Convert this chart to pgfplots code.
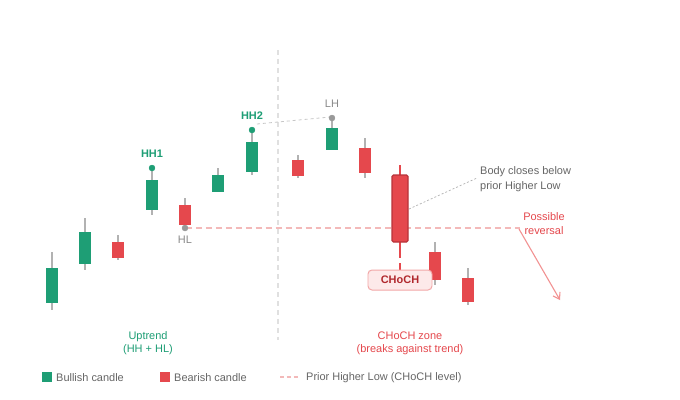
\documentclass[border=0pt]{standalone}
\usepackage{pgfplots}
\pgfplotsset{compat=1.18}
\usepackage{fontspec}
\setmainfont{Liberation Sans}
\usetikzlibrary{arrows.meta}
\definecolor{bull}{HTML}{1E9E75}
\definecolor{bear}{HTML}{E5484D}
\definecolor{beardark}{HTML}{B8343A}
\definecolor{wickc}{HTML}{B2B2B2}
\definecolor{txtgray}{HTML}{666666}
\definecolor{lblgray}{HTML}{8A8A8A}
\definecolor{levelc}{HTML}{F3B9B9}
\definecolor{chochtxt}{HTML}{B0282D}
\definecolor{chochfill}{HTML}{FDE9E9}
\definecolor{chochdraw}{HTML}{F2A7A7}
\definecolor{arrowc}{HTML}{F29292}
\begin{document}
\begin{tikzpicture}
\begin{axis}[width=680bp, height=400bp, scale only axis,
  xmin=0, xmax=680, ymin=0, ymax=400, y dir=reverse,
  axis lines=none, ticks=none, clip=false]
\fill[white] (axis cs:0,0) rectangle (axis cs:680,400);
% divider
\addplot[draw=black!12, line width=1.2pt, dash pattern=on 5pt off 4pt] coordinates {(278,50) (278,340)};
% CHoCH level
\addplot[draw=levelc, line width=1.3pt, dash pattern=on 6pt off 4pt] coordinates {(186,228) (520,228)};
% guide lines
\addplot[draw=black!22, line width=0.8pt, dash pattern=on 3pt off 3pt] coordinates {(257,124) (330,117)};
\addplot[draw=black!30, line width=0.7pt, dash pattern=on 2pt off 2pt] coordinates {(409,209) (477,178)};
% reversal arrow
\addplot[draw=arrowc, line width=1.1pt, -{Straight Barb[length=6pt,width=8pt]}] coordinates {(519,229) (560,300)};
% wicks
\addplot[wickc, line width=1.6pt] coordinates {(52,252) (52,310)};
\addplot[wickc, line width=1.6pt] coordinates {(85,218) (85,270)};
\addplot[wickc, line width=1.6pt] coordinates {(118,235) (118,260)};
\addplot[wickc, line width=1.6pt] coordinates {(152,168) (152,215)};
\addplot[wickc, line width=1.6pt] coordinates {(185,198) (185,228)};
\addplot[wickc, line width=1.6pt] coordinates {(218,168) (218,192)};
\addplot[wickc, line width=1.6pt] coordinates {(252,130) (252,175)};
\addplot[wickc, line width=1.6pt] coordinates {(298,155) (298,178)};
\addplot[wickc, line width=1.6pt] coordinates {(332,118) (332,150)};
\addplot[wickc, line width=1.6pt] coordinates {(365,138) (365,178)};
\addplot[bear, line width=1.6pt] coordinates {(400,165) (400,246)};
\addplot[bear, line width=1.6pt] coordinates {(400,246) (400,258)};
\addplot[bear, line width=1.6pt] coordinates {(400,263) (400,270)};
\addplot[wickc, line width=1.6pt] coordinates {(435,242) (435,285)};
\addplot[wickc, line width=1.6pt] coordinates {(468,268) (468,305)};
% bodies
\addplot[fill=bull, draw=none] coordinates {(46,268) (58,268) (58,303) (46,303)} --cycle;
\addplot[fill=bull, draw=none] coordinates {(79,232) (91,232) (91,264) (79,264)} --cycle;
\addplot[fill=bear, draw=none] coordinates {(112,242) (124,242) (124,258) (112,258)} --cycle;
\addplot[fill=bull, draw=none] coordinates {(146,180) (158,180) (158,210) (146,210)} --cycle;
\addplot[fill=bear, draw=none] coordinates {(179,205) (191,205) (191,225) (179,225)} --cycle;
\addplot[fill=bull, draw=none] coordinates {(212,175) (224,175) (224,192) (212,192)} --cycle;
\addplot[fill=bull, draw=none] coordinates {(246,142) (258,142) (258,172) (246,172)} --cycle;
\addplot[fill=bear, draw=none] coordinates {(292,160) (304,160) (304,176) (292,176)} --cycle;
\addplot[fill=bull, draw=none] coordinates {(326,128) (338,128) (338,150) (326,150)} --cycle;
\addplot[fill=bear, draw=none] coordinates {(359,148) (371,148) (371,173) (359,173)} --cycle;
\addplot[fill=bear, draw=beardark, line width=1.2pt, rounded corners=1.5pt] coordinates {(392,175) (408,175) (408,242) (392,242)} --cycle;
\addplot[fill=bear, draw=none] coordinates {(429,252) (441,252) (441,280) (429,280)} --cycle;
\addplot[fill=bear, draw=none] coordinates {(462,278) (474,278) (474,302) (462,302)} --cycle;
% swing points
\addplot[only marks, mark=*, mark size=3pt, color=bull] coordinates {(152,168) (252,130)};
\addplot[only marks, mark=*, mark size=3pt, color=black!40] coordinates {(185,228) (332,118)};
% labels
\node[font=\fontsize{11}{13}\selectfont\bfseries, text=bull] at (axis cs:152,154) {HH1};
\node[font=\fontsize{11}{13}\selectfont\bfseries, text=bull] at (axis cs:252,116) {HH2};
\node[font=\fontsize{11}{13}\selectfont, text=lblgray] at (axis cs:332,104) {LH};
\node[font=\fontsize{11}{13}\selectfont, text=lblgray] at (axis cs:185,240) {HL};
% CHoCH tag
\node[font=\fontsize{11}{13}\selectfont\bfseries, text=chochtxt, fill=chochfill, draw=chochdraw, line width=1pt, rounded corners=4pt, minimum width=64bp, minimum height=20bp, inner sep=0pt] at (axis cs:400,280) {CHoCH};
% annotations
\node[font=\fontsize{11}{15}\selectfont, text=txtgray, anchor=west, align=left, inner sep=0pt] at (axis cs:480,179.5) {Body closes below\\prior Higher Low};
\node[font=\fontsize{11}{14}\selectfont, text=bear, align=center, inner sep=0pt] at (axis cs:544,223.5) {Possible\\reversal};
\node[font=\fontsize{11}{13}\selectfont, text=bull, align=center, inner sep=0pt] at (axis cs:148,343) {Uptrend\\(HH + HL)};
\node[font=\fontsize{11}{13}\selectfont, text=bear, align=center, inner sep=0pt] at (axis cs:410,343) {CHoCH zone\\(breaks against trend)};
% legend
\addplot[fill=bull, draw=none] coordinates {(42,372) (52,372) (52,382) (42,382)} --cycle;
\addplot[fill=bear, draw=none] coordinates {(160,372) (170,372) (170,382) (160,382)} --cycle;
\addplot[draw=levelc, line width=1.3pt, dash pattern=on 4pt off 3pt] coordinates {(280,377) (298,377)};
\node[font=\fontsize{11}{13}\selectfont, text=txtgray, anchor=west, inner sep=0pt] at (axis cs:56,377.8) {Bullish candle};
\node[font=\fontsize{11}{13}\selectfont, text=txtgray, anchor=west, inner sep=0pt] at (axis cs:174,377.8) {Bearish candle};
\node[font=\fontsize{11}{13}\selectfont, text=txtgray, anchor=west, inner sep=0pt] at (axis cs:306,377.8) {Prior Higher Low (CHoCH level)};
\end{axis}
\pgfresetboundingbox
\path (0,0) rectangle (680bp,400bp);
\end{tikzpicture}
\end{document}
